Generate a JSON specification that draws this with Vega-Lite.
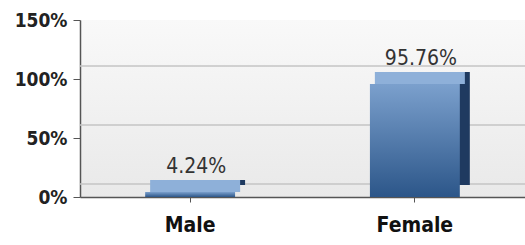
{
  "$schema": "https://vega.github.io/schema/vega-lite/v6.json",
  "width": 445,
  "height": 177,
  "autosize": "none",
  "padding": {"left": 80, "top": 20, "right": 0, "bottom": 48},
  "background": "white",
  "config": {
    "view": {
      "stroke": null,
      "fill": {"gradient": "linear", "x1": 0, "y1": 0, "x2": 0, "y2": 1,
        "stops": [{"offset": 0, "color": "#f9f9f9"}, {"offset": 1, "color": "#e9e9e9"}]}
    }
  },
  "encoding": {
    "y": {"field": "pct", "type": "quantitative", "scale": {"domain": [0, 150]},
      "axis": {"title": null, "values": [0, 50, 100, 150], "labelExpr": "datum.value + '%'",
        "grid": false, "domainColor": "#555555", "domainWidth": 1.5, "tickColor": "#555555", "tickSize": 7,
        "labelPadding": 6, "labelFont": "DejaVu Sans Condensed, Liberation Sans Narrow, Liberation Sans", "labelFontWeight": "bold", "labelFontSize": 19, "labelColor": "#222222"}}
  },
  "layer": [
    {
      "data": {"values": [{"pct": 0}, {"pct": 50}, {"pct": 100}]},
      "mark": {"type": "rule", "color": "#c4c4c4", "strokeWidth": 1.5, "xOffset": 12, "yOffset": -13}
    },
    {
      "data": {"values": [{"gender": "Male", "pct": 4.24, "label": "4.24%"}, {"gender": "Female", "pct": 95.76, "label": "95.76%"}]},
      "encoding": {
        "x": {"field": "gender", "type": "nominal", "sort": null,
          "scale": {"paddingInner": 0.6, "paddingOuter": 0.29},
          "axis": {"title": null, "labelAngle": 0, "domainColor": "#555555", "domainWidth": 1.5,
            "tickColor": "#555555", "tickSize": 5, "labelPadding": 12,
            "labelFont": "DejaVu Sans Condensed, Liberation Sans Narrow, Liberation Sans", "labelFontWeight": "bold", "labelFontSize": 21, "labelColor": "#111111"}}
      },
      "layer": [
        {"mark": {"type": "bar", "color": "#1f3a60", "opacity": 1, "xOffset": 10, "yOffset": -12}},
        {"mark": {"type": "tick", "orient": "horizontal", "thickness": 12, "size": 90, "color": "#8eb0d9", "opacity": 1, "xOffset": 5, "yOffset": -6}},
        {"mark": {"type": "bar", "opacity": 1, "color": {"gradient": "linear", "x1": 0, "y1": 0, "x2": 0, "y2": 1,
          "stops": [{"offset": 0, "color": "#7ba0cd"}, {"offset": 1, "color": "#2c5689"}]}}},
        {"mark": {"type": "text", "baseline": "alphabetic", "dy": -19, "dx": 6, "font": "DejaVu Sans Condensed, Liberation Sans Narrow, Liberation Sans", "fontSize": 21, "color": "#333333"},
          "encoding": {"text": {"field": "label"}}}
      ]
    }
  ]
}
